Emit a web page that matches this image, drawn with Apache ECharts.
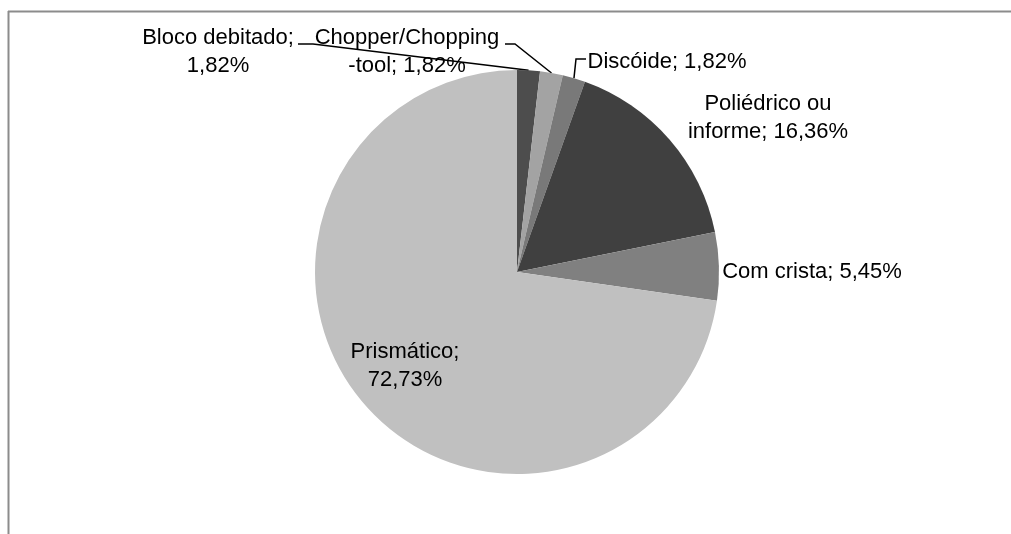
<!DOCTYPE html>
<html lang="pt">

<head>
    <meta charset="UTF-8">
    <title>Núcleos</title>
    <script src="https://cdn.jsdelivr.net/npm/echarts@6/dist/echarts.min.js"></script>
    <style>
        html, body { margin: 0; padding: 0; background: #fff; }
    </style>
</head>

<body>
    <div id="main" style="width: 1011px;height:534px;"></div>
    <script type="text/javascript">
        // dados
        var categories = ['Bloco debitado', 'Chopper/Chopping\n-tool', 'Discóide', 'Poliédrico ou\ninforme', 'Com crista', 'Prismático'];
        var percents = [1.82, 1.82, 1.82, 16.36, 5.45, 72.73];
        var colors = ['#4d4d4d', '#a3a3a3', '#797979', '#404040', '#808080', '#c0c0c0'];

        // posição dos rótulos (centro) e início das linhas de chamada
        var labelPos = [[218, 52], [407, 52], [667, 62], [768, 118], [812, 272], [405, 366]];
        var leaderStart = [[[298, 44], [313, 44]], [[505, 44], [515, 44]], [[586, 59], [576, 59]], null, null, null];
        var sep = [';\n', '; ', '; ', '; ', '; ', ';\n'];

        var myChart = echarts.init(document.getElementById('main'));

        var data = categories.map(function (c, i) {
            return {
                name: c,
                value: percents[i],
                itemStyle: { color: colors[i] },
                labelLine: { show: leaderStart[i] != null }
            };
        });

        var option = {
            animation: false,
            graphic: [
                { type: 'line', shape: { x1: 8.5, y1: 11, x2: 8.5, y2: 534 }, style: { stroke: '#8c8c8c', lineWidth: 2 } },
                { type: 'line', shape: { x1: 8, y1: 11.5, x2: 1011, y2: 11.5 }, style: { stroke: '#8c8c8c', lineWidth: 2 } }
            ],
            series: [{
                type: 'pie',
                center: [517, 272],
                radius: 202,
                startAngle: 90,
                clockwise: true,
                avoidLabelOverlap: false,
                data: data,
                label: {
                    show: true,
                    color: '#000',
                    fontFamily: 'Liberation Sans',
                    fontSize: 22,
                    lineHeight: 28,
                    formatter: function (p) {
                        return p.name + sep[p.dataIndex] + p.value.toFixed(2).replace('.', ',') + '%';
                    }
                },
                labelLine: {
                    lineStyle: { color: '#000', width: 1.5 }
                },
                labelLayout: function (params) {
                    var i = params.dataIndex;
                    var res = {
                        x: labelPos[i][0],
                        y: labelPos[i][1],
                        align: 'center',
                        verticalAlign: 'middle'
                    };
                    if (leaderStart[i] && params.labelLinePoints) {
                        var end = params.labelLinePoints[0];
                        res.labelLinePoints = [leaderStart[i][0], leaderStart[i][1], end];
                    }
                    return res;
                }
            }]
        };

        myChart.setOption(option);
    </script>
</body>

</html>
